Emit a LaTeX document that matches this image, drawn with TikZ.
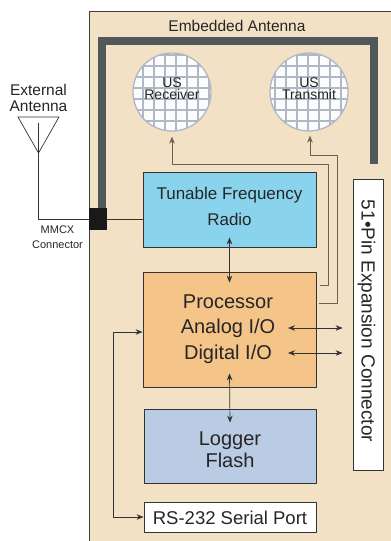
\documentclass[tikz,border=0pt]{standalone}
\usepackage{fontspec}
\setmainfont{Liberation Sans}
\usetikzlibrary{arrows.meta}
\definecolor{board}{RGB}{242,225,197}
\definecolor{antgray}{RGB}{80,88,90}
\definecolor{radioblue}{RGB}{138,211,237}
\definecolor{cpuorange}{RGB}{244,196,137}
\definecolor{logblue}{RGB}{186,204,228}
\definecolor{gridcol}{RGB}{176,184,198}
\definecolor{wirecol}{RGB}{105,95,85}
\newcommand\fsz[1]{\fontsize{#1}{#1}\selectfont}
\begin{document}
\begin{tikzpicture}[x=1pt, y=-1pt, line join=round, >={Stealth[length=7pt, width=5.5pt]},
	box/.style={draw=black!80, line width=0.8pt, inner sep=0pt},
	txt/.style={anchor=base, inner sep=0pt, text=black!85},
	link/.style={draw=black!80, line width=0.7pt},
	wire/.style={draw=wirecol, line width=0.8pt}]
			\clip (0,0) rectangle (391,541);
			\fill[white] (0,0) rectangle (391,541);
			\draw[fill=board, draw=black!75, line width=0.8pt] (89,11) rectangle (420,580);
			% embedded antenna
			\path
			(102,208) coordinate (ant0)
			(102,41) coordinate (ant1)
			(374,41) coordinate (ant2)
			(374,164) coordinate (ant3);
			\draw[antgray, line width=8pt, line join=miter] (ant0)--(ant1)--(ant2)--(ant3);
			\node[txt, font=\fsz{15.5}] (embtxt) at (237,31) {Embedded Antenna};
			\node[fill=black!90, minimum width=18pt, minimum height=22pt, inner sep=0pt] (mmcx) at (98,219) {};
			% external antenna
			\path
			(18,117) coordinate (extl)
			(59,117) coordinate (extr)
			(38.5,153) coordinate (exttip)
			(38.5,123) coordinate (extfeed);
			\draw[link] (extl)--(extr)--(exttip)--cycle;
			\draw[link] (extfeed) |- (mmcx.west);
			\node[txt, font=\fsz{15.5}] (exttxt1) at (38.5,95) {External};
			\node[txt, font=\fsz{15.5}] (exttxt2) at (38.5,111) {Antenna};
			\node[txt, font=\fsz{11}] (mmcxtxt1) at (57.5,233) {MMCX};
			\node[txt, font=\fsz{11}] (mmcxtxt2) at (57.5,248) {Connector};
			% transducers
			\foreach \n/\cx/\t in {rx/172/Receiver, tx/309/Transmit}{
				\begin{scope}
					\clip (\cx,92) circle (39pt);
					\fill[white!96!gridcol] (\cx-40,52) rectangle (\cx+40,132);
					\draw[gridcol, line width=1.3pt, step=11pt] (\cx-40,52) grid (\cx+40,132);
				\end{scope}
				\node[circle, draw=gridcol, line width=1.3pt, minimum size=78pt, inner sep=0pt] (\n) at (\cx,92) {};
				\node[txt, font=\fsz{14}] (\n top) at (\cx,87) {US};
				\node[txt, font=\fsz{14}] (\n bot) at (\cx,99.5) {\t};
			}
			% blocks
			\node[box, fill=radioblue, minimum width=173pt, minimum height=75pt] (radio) at (229.5,209.5) {};
			\node[txt, font=\fsz{17}] (radiotxt1) at (229.5,199) {Tunable Frequency};
			\node[txt, font=\fsz{17}] (radiotxt2) at (229.5,225) {Radio};
			\node[box, fill=cpuorange, minimum width=173pt, minimum height=115pt] (proc) at (229.5,329.5) {};
			\foreach \y/\t in {308/Processor, 333/{Analog I/O}, 359/{Digital I/O}}
			\node[txt, font=\fsz{20}] (proc\y) at (228,\y) {\t};
			\node[box, fill=logblue, minimum width=172pt, minimum height=74pt] (logger) at (230,446) {};
			\node[txt, font=\fsz{20}] (logtxt1) at (230,445) {Logger};
			\node[txt, font=\fsz{20}] (logtxt2) at (230,467) {Flash};
			\node[box, fill=white, minimum width=172pt, minimum height=30pt] (rs) at (230,517) {};
			\node[txt, font=\fsz{18.5}] (rstxt) at (230,524) {RS-232 Serial Port};
			\node[box, fill=white, minimum width=30pt, minimum height=291pt] (pin) at (368,324.5) {};
			\node[txt, font=\fsz{19}, rotate=-90] (pintxt) at (361.5,321) {51•Pin Expansion Connector};
			% connections
			\draw[link] (mmcx.east) -- (mmcx.east -| radio.west);
			\draw[link, <->] ([yshift=10pt]radio.south) -- ([yshift=-11pt]proc.north);
			\draw[link, <->] ([yshift=14pt]proc.south) -- ([yshift=-14pt]logger.north);
			\draw[link, <->] ([yshift=-2.5pt]proc.west) -- ++(-29,0) |- (rs.west);
			\path
			(288,328) coordinate (aio)
			(288,353) coordinate (dio)
			(320,285) coordinate (rxout)
			(328,164) coordinate (rxbend)
			(319,303) coordinate (txout)
			(337,155) coordinate (txbend);
			\foreach \p in {aio, dio}
			\draw[link, <->, shorten >=10pt] (\p) -- (\p -| pin.west);
			\draw[wire, ->, shorten >=5pt] (rxout) -| (rxbend) -| (rx.south);
			\draw[wire, ->, shorten >=4pt] (txout) -| (txbend) -| ([xshift=1pt]tx.south);
		\end{tikzpicture}
\end{document}
